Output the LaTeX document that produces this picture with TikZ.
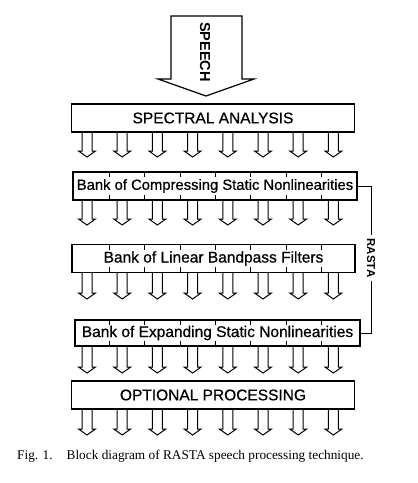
\documentclass[tikz,border=0pt]{standalone}
\usepackage{fontspec}
\setmainfont{Liberation Serif}
\setsansfont{Liberation Sans}
\newfontfamily\banksans[FakeBold=0.7]{Liberation Sans}
\usepackage{tikz}
\usetikzlibrary{positioning,calc}

\tikzset{
    bankbox/.style={draw, line width=1.2pt, minimum width=283pt, minimum height=28pt,
        inner xsep=0pt, inner ysep=0pt, font=\banksans\fontsize{15.5}{18}\selectfont},
    bankarrow/.style={line width=1pt, line join=miter},
    banktick/.style={line width=0.9pt},
    bracketlabel/.style={rotate=-90, inner sep=3pt, font=\sffamily\bfseries\fontsize{11.5}{14}\selectfont}
}

\begin{document}
\begin{tikzpicture}[x=1pt,y=-1pt]
    \useasboundingbox (0,0) rectangle (418,483);

    % Speech input arrow
    \draw [line width=1.2pt] (171,16) -- (171,79) -- (158,79) -- (206,96) -- (254,79) -- (242,79) -- (242,16) -- cycle;
    \node [rotate=-90, font=\sffamily\bfseries\fontsize{14.5}{17}\selectfont] (speech) at (205,52) {SPEECH};

    % Processing stages
    \node [bankbox] (spec) at (213,118) {SPECTRAL ANALYSIS};
    \node [bankbox, minimum width=284pt, font=\banksans\fontsize{14.8}{18}\selectfont] (comp) at (215,186) {Bank of Compressing Static Nonlinearities};
    \node [bankbox] (lin) at (213.5,258.5) {Bank of Linear Bandpass Filters};
    \node [bankbox, minimum width=285pt, minimum height=26pt] (expd) at (217.5,333) {Bank of Expanding Static Nonlinearities};
    \node [bankbox] (opt) at (213,395) {OPTIONAL PROCESSING};

    % Channel dividers on the banks
    \foreach \b in {comp,lin,expd} {
        \foreach \k [evaluate=\k as \tx using 109.5+35.3*\k] in {0,...,6} {
            \draw [banktick] (\tx,0 |- \b.north) -- ++(0,6);
            \draw [banktick] (\tx,0 |- \b.south) -- ++(0,-6);
        }
    }

    % Channel arrows between stages
    \foreach \ytop/\ytip in {132/157, 200/225, 273/299, 346/373, 409/435} {
        \foreach \k [evaluate=\k as \ax using 87+35.2*\k] in {0,...,7} {
            \draw [bankarrow] ({\ax-5},\ytop) -- ({\ax-5},{\ytip-6}) -- ({\ax-8.5},{\ytip-6}) -- (\ax,\ytip)
                -- ({\ax+8.5},{\ytip-6}) -- ({\ax+5},{\ytip-6}) -- ({\ax+5},\ytop);
        }
    }

    % RASTA bracket
    \node [bracketlabel] (rasta) at (371,258) {RASTA};
    \draw [line width=1pt] (comp.east) -| (rasta.west);
    \draw [line width=1pt] (expd.east) -| (rasta.east);

    % Caption
    \node [anchor=base west, inner sep=0pt, font=\fontsize{13.3}{15}\selectfont] (caption) at (17,459)
        {Fig. 1.\hspace{14pt}Block diagram of RASTA speech processing technique.};
\end{tikzpicture}
\end{document}
